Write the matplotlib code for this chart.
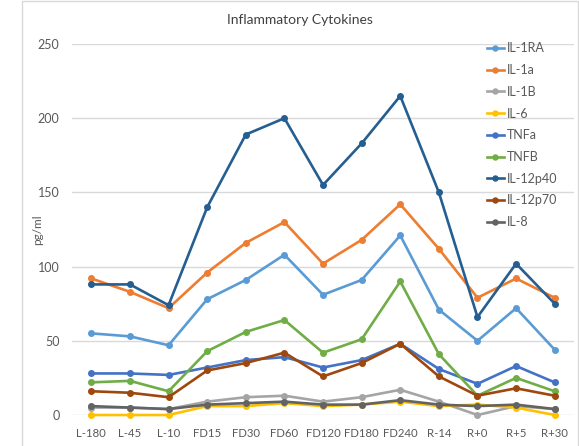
import matplotlib.pyplot as plt
from matplotlib.patches import Rectangle

# sampling points
timepoints = ["L-180", "L-45", "L-10", "FD15", "FD30", "FD60", "FD120",
              "FD180", "FD240", "R-14", "R+0", "R+5", "R+30"]

# cytokine levels, pg/ml
il1ra = [55, 53, 47, 78, 91, 108, 81, 91, 121, 71, 50, 72, 44]
il1a = [92, 83, 72, 96, 116, 130, 102, 118, 142, 112, 79, 92, 79]
il1b = [5, 5, 4, 9, 12, 13, 9, 12, 17, 9, 0, 6, 4]
il6 = [0, 0, 0, 6, 6, 8, 6, 7, 9, 6, 7, 5, 0]
tnfa = [28, 28, 27, 32, 37, 39, 32, 37, 48, 31, 21, 33, 22]
tnfb = [22, 23, 16, 43, 56, 64, 42, 51, 90, 41, 13, 25, 16]
il12p40 = [88, 88, 74, 140, 189, 200, 155, 183, 215, 150, 66, 102, 75]
il12p70 = [16, 15, 12, 30, 35, 42, 26, 35, 48, 26, 13, 18, 13]
il8 = [6, 5, 4, 7, 8, 9, 7, 7, 10, 7, 6, 7, 4]

series = [
    ("IL-1RA", il1ra, "#5B9BD5"),
    ("IL-1a", il1a, "#ED7D31"),
    ("IL-1B", il1b, "#A5A5A5"),
    ("IL-6", il6, "#FFC000"),
    ("TNFa", tnfa, "#4472C4"),
    ("TNFB", tnfb, "#70AD47"),
    ("IL-12p40", il12p40, "#255E91"),
    ("IL-12p70", il12p70, "#9E480E"),
    ("IL-8", il8, "#636363"),
]

plt.rcParams['font.family'] = ['Lato', 'DejaVu Sans']

fig = plt.figure(figsize=(5.79, 4.46), dpi=100)
ax = fig.add_axes([0.1244, 0.0695, 0.867, 0.8318])

x = list(range(len(timepoints)))
for name, vals, color in series:
    ax.plot(x, vals, color=color, lw=1.9, marker="o", ms=4,
            label=name, clip_on=False, zorder=3)

ax.set_xlim(-0.5, len(timepoints) - 0.5)
ax.set_ylim(0, 250)
ax.set_yticks([0, 50, 100, 150, 200, 250])
ax.set_xticks(x)
ax.set_xticklabels(timepoints)
ax.grid(axis="y", color="#D9D9D9", lw=1)
ax.set_axisbelow(True)
for s in ax.spines.values():
    s.set_visible(False)
ax.tick_params(length=0, labelcolor="#595959")
ax.tick_params(axis="y", pad=9, labelsize=9)
ax.tick_params(axis="x", pad=9, labelsize=8.2)
ax.set_ylabel("pg/ml", fontsize=8.5, color="#595959", labelpad=-4)

fig.text(0.518, 0.955, "Inflammatory Cytokines", ha="center", va="center",
         fontsize=10, color="#404040")

fig.legend(loc="upper left", bbox_to_anchor=(481 / 579, 1 - 36 / 446),
           frameon=False, fontsize=9, labelcolor="#595959",
           handlelength=1.3, handletextpad=0.3, labelspacing=0.78,
           borderpad=0, markerscale=0.9)

# outer chart border
fig.patches.append(Rectangle((22 / 579, -0.01), 0.96, 1.0075,
                             transform=fig.transFigure, fill=False,
                             edgecolor="#D9D9D9", lw=1))

fig.savefig("out.png", dpi=100)
